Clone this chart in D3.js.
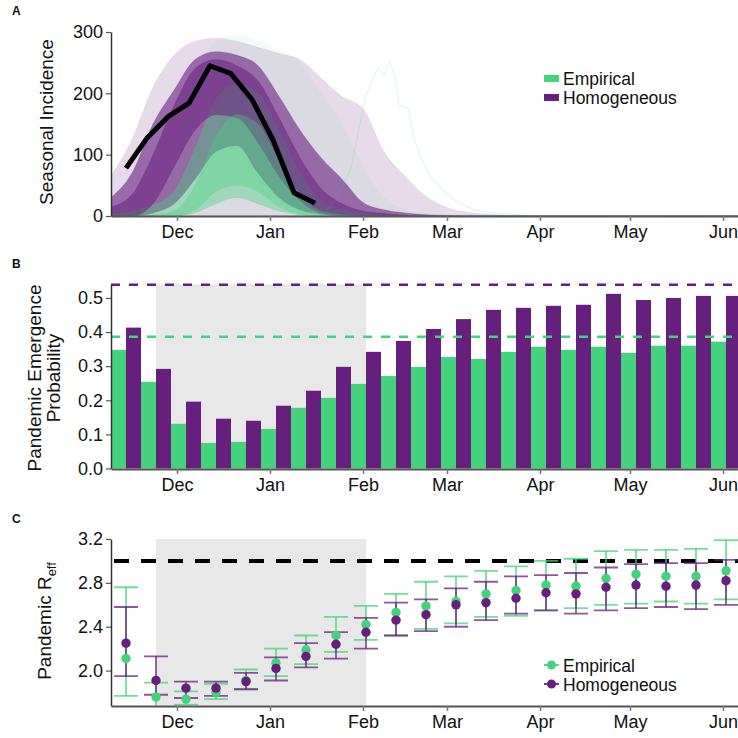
<!DOCTYPE html>
<html>
<head>
<meta charset="utf-8">
<script src="https://cdn.jsdelivr.net/npm/d3@7"></script>
<style>
  body { margin: 0; background: #fff; }
  svg text { font-family: "Liberation Sans", Arial, sans-serif; fill: #111; }
</style>
</head>
<body>
<div id="chart"></div>
<script>
const parse = d3.timeParse("%Y-%m-%d")

// ---------- panel A : seasonal incidence ensembles ----------
const weekDates = ["2013-11-09", "2013-11-16", "2013-11-23", "2013-11-30", "2013-12-07", "2013-12-14", "2013-12-21", "2013-12-28",
  "2014-01-04", "2014-01-11", "2014-01-18", "2014-01-25", "2014-02-01", "2014-02-08", "2014-02-15", "2014-02-22",
  "2014-03-01", "2014-03-08", "2014-03-15", "2014-03-22", "2014-04-05", "2014-06-07"]

// Homogeneous ensemble envelopes (faint outer / dense / darkest core)
const homOuterLo = [0, 0, 0, 0, 0, 0, 0, 0, 0, 0, 0, 0, 0, 0, 0, 0, 0, 0, 0, 0, 0, 0]
const homOuterHi = [65, 125, 210, 262, 285, 290, 285, 275, 265, 255, 225, 195, 175, 105, 65, 32, 14, 6, 3, 1.5, 0.5, 0]
const homMidLo = [0, 0, 5, 20, 60, 105, 115, 70, 30, 10, 3, 0, 0, 0, 0, 0, 0, 0, 0, 0, 0, 0]
const homMidHi = [30, 70, 150, 205, 255, 268, 262, 245, 195, 140, 95, 60, 22, 10, 5, 2, 1, 0, 0, 0, 0, 0]
const homCoreLo = [0, 0, 20, 80, 140, 165, 160, 120, 65, 25, 5, 1, 0, 0, 0, 0, 0, 0, 0, 0, 0, 0]
const homCoreHi = [15, 35, 100, 180, 240, 255, 245, 220, 160, 95, 45, 20, 8, 4, 1, 0, 0, 0, 0, 0, 0, 0]

// Empirical ensemble envelopes
const empOuterLo = [0, 0, 0, 0, 0, 0, 0, 0, 0, 0, 0, 0, 0, 0, 0, 0, 0, 0, 0, 0, 0, 0]
const empOuterHi = [8, 15, 40, 110, 230, 285, 295, 285, 270, 250, 200, 150, 80, 30, 10, 4, 1, 0, 0, 0, 0, 0]
const empMidLo = [0, 0, 0, 0, 5, 20, 30, 20, 8, 2, 0, 0, 0, 0, 0, 0, 0, 0, 0, 0, 0, 0]
const empMidHi = [3, 8, 18, 40, 110, 190, 215, 200, 140, 70, 25, 10, 4, 1, 0, 0, 0, 0, 0, 0, 0, 0]
const empCoreLo = [0, 0, 0, 0, 10, 40, 50, 40, 15, 3, 0, 0, 0, 0, 0, 0, 0, 0, 0, 0, 0, 0]
const empCoreHi = [0, 0, 2, 8, 50, 130, 165, 150, 90, 35, 8, 2, 0, 0, 0, 0, 0, 0, 0, 0, 0, 0]

// one late empirical run that stands out
const lateRunDates = ["2014-01-20", "2014-01-24", "2014-01-28", "2014-01-30", "2014-02-02", "2014-02-04", "2014-02-06", "2014-02-08",
  "2014-02-10", "2014-02-12", "2014-02-13", "2014-02-16", "2014-02-18", "2014-02-20", "2014-02-22", "2014-02-24", "2014-02-28",
  "2014-03-04", "2014-03-10", "2014-03-16", "2014-03-30"]
const lateRunValues = [10, 35, 78, 127, 198, 220, 241, 230, 252, 220, 181, 176, 127, 100, 78, 62, 40, 24, 10, 5, 0]

// observed seasonal incidence
const obsDates = ["2013-11-14", "2013-11-21", "2013-11-28", "2013-12-05", "2013-12-12", "2013-12-19", "2013-12-26", "2014-01-02", "2014-01-09", "2014-01-16"]
const obsValues = [78, 127, 162, 184, 245, 232, 190, 124, 38, 21]

// ---------- panels B and C : 10-day bins ----------
const binStarts = ["2013-11-09", "2013-11-19", "2013-11-29", "2013-12-09", "2013-12-19", "2013-12-29", "2014-01-08",
  "2014-01-18", "2014-01-28", "2014-02-07", "2014-02-17", "2014-02-27", "2014-03-09", "2014-03-19", "2014-03-29",
  "2014-04-08", "2014-04-18", "2014-04-28", "2014-05-08", "2014-05-18", "2014-05-28"]
const seriesNames = ["Empirical", "Homogeneous"]

const empProb = [0.348, 0.254, 0.131, 0.075, 0.078, 0.116, 0.178, 0.207, 0.248, 0.271, 0.298, 0.327, 0.321, 0.342, 0.357, 0.348, 0.357, 0.339, 0.360, 0.360, 0.372]
const homProb = [0.413, 0.292, 0.196, 0.146, 0.140, 0.184, 0.228, 0.298, 0.342, 0.374, 0.409, 0.438, 0.465, 0.471, 0.477, 0.480, 0.512, 0.494, 0.500, 0.506, 0.506]
const empProbBase = 0.386
const homProbBase = 0.539

const empR = [2.11, 1.76, 1.74, 1.80, 1.91, 2.07, 2.19, 2.32, 2.42, 2.53, 2.59, 2.63, 2.70, 2.73, 2.78, 2.77, 2.84, 2.88, 2.86, 2.86, 2.91]
const empRLo = [1.77, 1.62, 1.69, 1.74, 1.83, 1.95, 2.06, 2.17, 2.28, 2.32, 2.38, 2.43, 2.49, 2.50, 2.55, 2.57, 2.60, 2.61, 2.63, 2.61, 2.65]
const empRHi = [2.76, 1.89, 1.81, 1.88, 2.01, 2.20, 2.32, 2.49, 2.59, 2.70, 2.81, 2.86, 2.91, 2.95, 3.00, 3.02, 3.09, 3.10, 3.10, 3.11, 3.19]
const homR = [2.25, 1.91, 1.84, 1.84, 1.90, 2.02, 2.13, 2.24, 2.35, 2.46, 2.51, 2.60, 2.62, 2.66, 2.71, 2.70, 2.76, 2.78, 2.77, 2.78, 2.82]
const homRLo = [1.95, 1.78, 1.75, 1.77, 1.83, 1.91, 2.03, 2.11, 2.20, 2.32, 2.36, 2.40, 2.46, 2.52, 2.55, 2.52, 2.55, 2.57, 2.58, 2.56, 2.60]
const homRHi = [2.58, 2.13, 1.90, 1.90, 1.98, 2.12, 2.25, 2.35, 2.48, 2.62, 2.65, 2.75, 2.81, 2.86, 2.87, 2.89, 2.94, 2.97, 2.98, 2.98, 3.01]
const r0 = 3.0

const monthTicks = ["2013-12-01", "2014-01-01", "2014-02-01", "2014-03-01", "2014-04-01", "2014-05-01", "2014-06-01"]
const shade = ["2013-11-24", "2014-02-02"]

const green = "#44d27d"
const purple = "#671f7e"

// ---------- svg ----------
const svg = d3.select("#chart").append("svg").attr("width", 738).attr("height", 738)

const x = d3.scaleTime().domain([parse("2013-11-09"), parse("2014-06-07")]).range([111, 741])
const yA = d3.scaleLinear().domain([0, 300]).range([216, 32])
const yB = d3.scaleLinear().domain([0, 0.54]).range([468.5, 284.3])
const yC = d3.scaleLinear().domain([1.68, 3.2]).range([705.7, 539])

const band = d3.scaleBand().domain(binStarts).range([x(parse(binStarts[0])), x(parse("2014-06-07"))]).padding(0)
const sub = d3.scaleBand().domain(seriesNames).range([0, band.bandwidth()]).padding(0)

// clip paths for the plot areas
const defs = svg.append("defs")
defs.append("clipPath").attr("id", "clipA").append("rect").attr("x", 111).attr("y", 28).attr("width", 640).attr("height", 188)
defs.append("clipPath").attr("id", "clipC").append("rect").attr("x", 111).attr("y", 535).attr("width", 640).attr("height", 170.7)

function xAxis(g, y0) {
  g.attr("transform", `translate(0,${y0})`)
    .call(d3.axisBottom(x).tickValues(monthTicks.map(parse)).tickFormat(d3.timeFormat("%b")).tickSize(5).tickSizeOuter(0).tickPadding(4))
  g.select(".domain").attr("stroke", "#555").attr("stroke-width", 2)
  g.selectAll(".tick line").attr("stroke", "#777").attr("stroke-width", 1.5)
  g.selectAll(".tick text").style("font-size", "18px").attr("fill", "#111")
}
function yAxis(g, scale, ticks, fmt) {
  g.attr("transform", "translate(111,0)")
    .call(d3.axisLeft(scale).tickValues(ticks).tickFormat(fmt).tickSize(5).tickSizeOuter(0).tickPadding(3))
  g.select(".domain").attr("stroke", "#333").attr("stroke-width", 1.5)
  g.selectAll(".tick line").attr("stroke", "#555").attr("stroke-width", 1.2)
  g.selectAll(".tick text").style("font-size", "18px").attr("fill", "#111")
}

// ================= panel A =================
const gA = svg.append("g")
const plotA = gA.append("g").attr("clip-path", "url(#clipA)")

function envelope(lo, hi) {
  return weekDates.map((d, i) => ({ date: parse(d), lo: lo[i], hi: hi[i] }))
}
const area = d3.area().x(d => x(d.date)).y0(d => yA(d.lo)).y1(d => yA(d.hi)).curve(d3.curveMonotoneX)

const layers = [
  { data: envelope(homOuterLo, homOuterHi), color: purple, op: 0.16 },
  { data: envelope(empOuterLo, empOuterHi), color: green, op: 0.07 },
  { data: envelope(homMidLo, homMidHi), color: purple, op: 0.6 },
  { data: envelope(empMidLo, empMidHi), color: green, op: 0.4 },
  { data: envelope(homCoreLo, homCoreHi), color: purple, op: 0.55 },
  { data: envelope(empCoreLo, empCoreHi), color: green, op: 0.35 }
]
plotA.selectAll("path.band").data(layers).enter().append("path")
  .attr("class", "band")
  .attr("d", d => area(d.data))
  .attr("fill", d => d.color)
  .attr("fill-opacity", d => d.op)
  .attr("stroke", d => d.color)
  .attr("stroke-opacity", d => d.op * 0.5)
  .attr("stroke-width", 0.8)

const runLine = d3.line().x(d => x(parse(d[0]))).y(d => yA(d[1])).curve(d3.curveLinear)
plotA.append("path")
  .attr("d", runLine(d3.zip(lateRunDates, lateRunValues)))
  .attr("fill", "none").attr("stroke", green).attr("stroke-opacity", 0.15).attr("stroke-width", 1.2)

plotA.append("path")
  .attr("d", runLine(d3.zip(obsDates, obsValues)))
  .attr("fill", "none").attr("stroke", "#000").attr("stroke-width", 5).attr("stroke-linejoin", "round")

gA.append("g").call(xAxis, 216)
gA.append("g").call(yAxis, yA, [0, 100, 200, 300], d3.format("d"))

gA.append("text").attr("transform", "translate(53,122) rotate(-90)").attr("text-anchor", "middle")
  .style("font-size", "19px").text("Seasonal Incidence")
gA.append("text").attr("x", 12).attr("y", 15).style("font-size", "12px").style("font-weight", "bold").text("A")

const legA = gA.append("g")
seriesNames.forEach((name, i) => {
  legA.append("rect").attr("x", 544).attr("y", 75 + i * 19).attr("width", 15).attr("height", 7)
    .attr("fill", i === 0 ? green : purple)
  legA.append("text").attr("x", 563).attr("y", 85 + i * 19).style("font-size", "17.5px").text(name)
})

// ================= panel B =================
const gB = svg.append("g")
gB.append("rect").attr("x", x(parse(shade[0]))).attr("y", yB(0.54)).attr("width", x(parse(shade[1])) - x(parse(shade[0])))
  .attr("height", yB(0) - yB(0.54)).attr("fill", "#e8e8e8")

const probRows = binStarts.map((d, i) => ({ bin: d, values: [empProb[i], homProb[i]] }))
gB.selectAll("g.bin").data(probRows).enter().append("g")
  .attr("class", "bin")
  .attr("transform", d => `translate(${band(d.bin)},0)`)
  .selectAll("rect").data(d => d.values.map((v, j) => ({ series: seriesNames[j], v }))).enter().append("rect")
  .attr("x", d => sub(d.series))
  .attr("width", sub.bandwidth())
  .attr("y", d => yB(d.v))
  .attr("height", d => yB(0) - yB(d.v))
  .attr("fill", d => d.series === "Empirical" ? green : purple)

gB.append("line").attr("x1", 111).attr("x2", 738).attr("y1", yB(empProbBase)).attr("y2", yB(empProbBase))
  .attr("stroke", green).attr("stroke-width", 2.5).attr("stroke-dasharray", "9,9")
gB.append("line").attr("x1", 111).attr("x2", 738).attr("y1", yB(homProbBase)).attr("y2", yB(homProbBase))
  .attr("stroke", purple).attr("stroke-width", 2.5).attr("stroke-dasharray", "9,9")

gB.append("g").call(xAxis, 469)
gB.append("g").call(yAxis, yB, [0, 0.1, 0.2, 0.3, 0.4, 0.5], d3.format(".1f"))

const titleB = gB.append("text").attr("transform", "translate(41,378) rotate(-90)").attr("text-anchor", "middle").style("font-size", "19px")
titleB.append("tspan").attr("x", 0).attr("dy", 0).text("Pandemic Emergence")
titleB.append("tspan").attr("x", 0).attr("dy", "1.0em").text("Probability")
gB.append("text").attr("x", 12).attr("y", 268).style("font-size", "12px").style("font-weight", "bold").text("B")

// ================= panel C =================
const gC = svg.append("g")
gC.append("rect").attr("x", x(parse(shade[0]))).attr("y", yC(3.2)).attr("width", x(parse(shade[1])) - x(parse(shade[0])))
  .attr("height", yC(1.68) - yC(3.2)).attr("fill", "#e8e8e8")

gC.append("line").attr("x1", 111).attr("x2", 738).attr("y1", yC(r0)).attr("y2", yC(r0))
  .attr("stroke", "#000").attr("stroke-width", 4).attr("stroke-dasharray", "15,12").attr("stroke-dashoffset", -3)

const plotC = gC.append("g").attr("clip-path", "url(#clipC)")
const rSeries = [
  { name: "Empirical", color: green, mean: empR, lo: empRLo, hi: empRHi },
  { name: "Homogeneous", color: purple, mean: homR, lo: homRLo, hi: homRHi }
]
rSeries.forEach(s => {
  const rows = binStarts.map((b, i) => ({ cx: band(b) + band.bandwidth() / 2, m: s.mean[i], lo: s.lo[i], hi: s.hi[i] }))
  const g = plotC.append("g")
  const bars = g.selectAll("g").data(rows).enter().append("g").attr("stroke", s.color).attr("stroke-opacity", 0.75).attr("stroke-width", 1.8)
  bars.append("line").attr("x1", d => d.cx).attr("x2", d => d.cx).attr("y1", d => yC(d.lo)).attr("y2", d => yC(d.hi))
  bars.append("line").attr("x1", d => d.cx - 12).attr("x2", d => d.cx + 12).attr("y1", d => yC(d.lo)).attr("y2", d => yC(d.lo))
  bars.append("line").attr("x1", d => d.cx - 12).attr("x2", d => d.cx + 12).attr("y1", d => yC(d.hi)).attr("y2", d => yC(d.hi))
})
rSeries.forEach(s => {
  plotC.append("g").selectAll("circle").data(binStarts.map((b, i) => ({ cx: band(b) + band.bandwidth() / 2, m: s.mean[i] })))
    .enter().append("circle")
    .attr("cx", d => d.cx).attr("cy", d => yC(d.m)).attr("r", 4.7).attr("fill", s.color)
})

gC.append("g").call(xAxis, 706)
gC.append("g").call(yAxis, yC, [2.0, 2.4, 2.8, 3.2], d3.format(".1f"))

const titleC = gC.append("text").attr("transform", "translate(51,621) rotate(-90)").attr("text-anchor", "middle").style("font-size", "19px")
titleC.append("tspan").text("Pandemic R")
titleC.append("tspan").attr("dy", 5).style("font-size", "13px").text("eff")
gC.append("text").attr("x", 12).attr("y", 523).style("font-size", "12px").style("font-weight", "bold").text("C")

const legC = gC.append("g")
rSeries.forEach((s, i) => {
  legC.append("line").attr("x1", 544).attr("x2", 559).attr("y1", 665 + i * 19).attr("y2", 665 + i * 19)
    .attr("stroke", s.color).attr("stroke-width", 1.8)
  legC.append("circle").attr("cx", 551.5).attr("cy", 665 + i * 19).attr("r", 4.5).attr("fill", s.color)
  legC.append("text").attr("x", 563).attr("y", 672 + i * 19).style("font-size", "17.5px").text(s.name)
})
</script>
</body>
</html>
